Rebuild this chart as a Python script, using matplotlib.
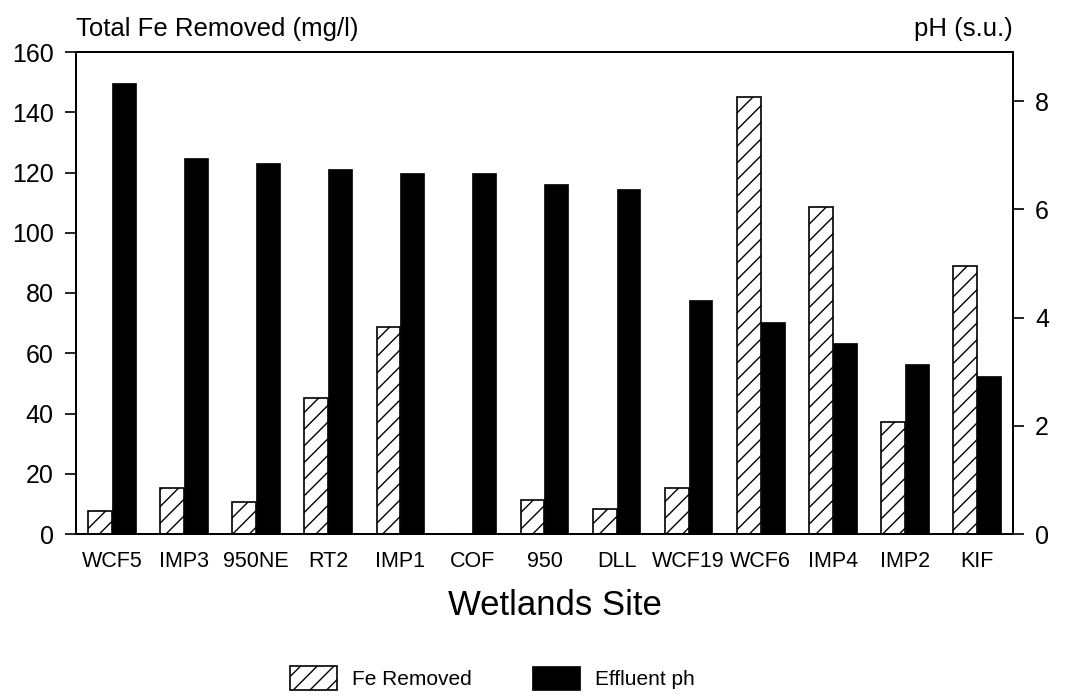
import matplotlib
matplotlib.use("Agg")
import matplotlib.pyplot as plt
import numpy as np

plt.rcParams["font.family"] = ["Liberation Sans", "DejaVu Sans"]
plt.rcParams["hatch.linewidth"] = 1.0

# datos
sitios = ["WCF5", "IMP3", "950NE", "RT2", "IMP1", "COF", "950", "DLL",
          "WCF19", "WCF6", "IMP4", "IMP2", "KIF"]
fe_removido = [7.6, 15.4, 10.6, 45, 68.8, 0, 11.4, 8.4, 15.3, 145, 108.4, 37.3, 89]
ph_efluente = [8.34, 6.95, 6.86, 6.75, 6.68, 6.68, 6.47, 6.38, 4.33, 3.92, 3.53, 3.14, 2.92]

fig = plt.figure(figsize=(10.7, 6.96), dpi=100)
ax = fig.add_axes([76 / 1070, 1 - 534 / 696, (1013 - 76) / 1070, (534 - 52) / 696])
ax2 = ax.twinx()

x = np.arange(len(sitios))
ancho = 0.33

b1 = ax.bar(x - ancho / 2, fe_removido, ancho, color="white", edgecolor="black",
            linewidth=1.2, hatch="//", label="Fe Removed")
b2 = ax2.bar(x + ancho / 2, ph_efluente, ancho, color="black", edgecolor="black",
             linewidth=0.5, label="Effluent ph")

ax.set_xlim(-0.5, len(sitios) - 0.5)
ax.set_ylim(0, 160)
ax.set_yticks(range(0, 161, 20))
ax2.set_ylim(0, 8.91)
ax2.set_yticks([0, 2, 4, 6, 8])

ax.set_xticks(x)
ax.set_xticklabels(sitios, fontsize=15.5)
ax.tick_params(axis="x", length=0, pad=12)
ax.tick_params(axis="y", labelsize=18, length=8, width=1.2, pad=8)
ax2.tick_params(axis="y", labelsize=18, length=8, width=1.2, pad=8)

for a in (ax, ax2):
    for s in a.spines.values():
        s.set_linewidth(1.3)

fig.text(76 / 1070, 1 - 36 / 696, "Total Fe Removed (mg/l)", fontsize=18.5,
         ha="left", va="baseline")
fig.text(1013 / 1070, 1 - 36 / 696, "pH (s.u.)", fontsize=18.5,
         ha="right", va="baseline")
fig.text(555 / 1070, 1 - 615 / 696, "Wetlands Site", fontsize=25,
         ha="center", va="baseline")

fig.legend(handles=[b1, b2], loc="center", bbox_to_anchor=(492 / 1070, 1 - 678 / 696),
           ncol=2, frameon=False, fontsize=15, handlelength=2.3, handleheight=1.4,
           handletextpad=0.7, columnspacing=2.9)

fig.savefig("out.png", dpi=100)
